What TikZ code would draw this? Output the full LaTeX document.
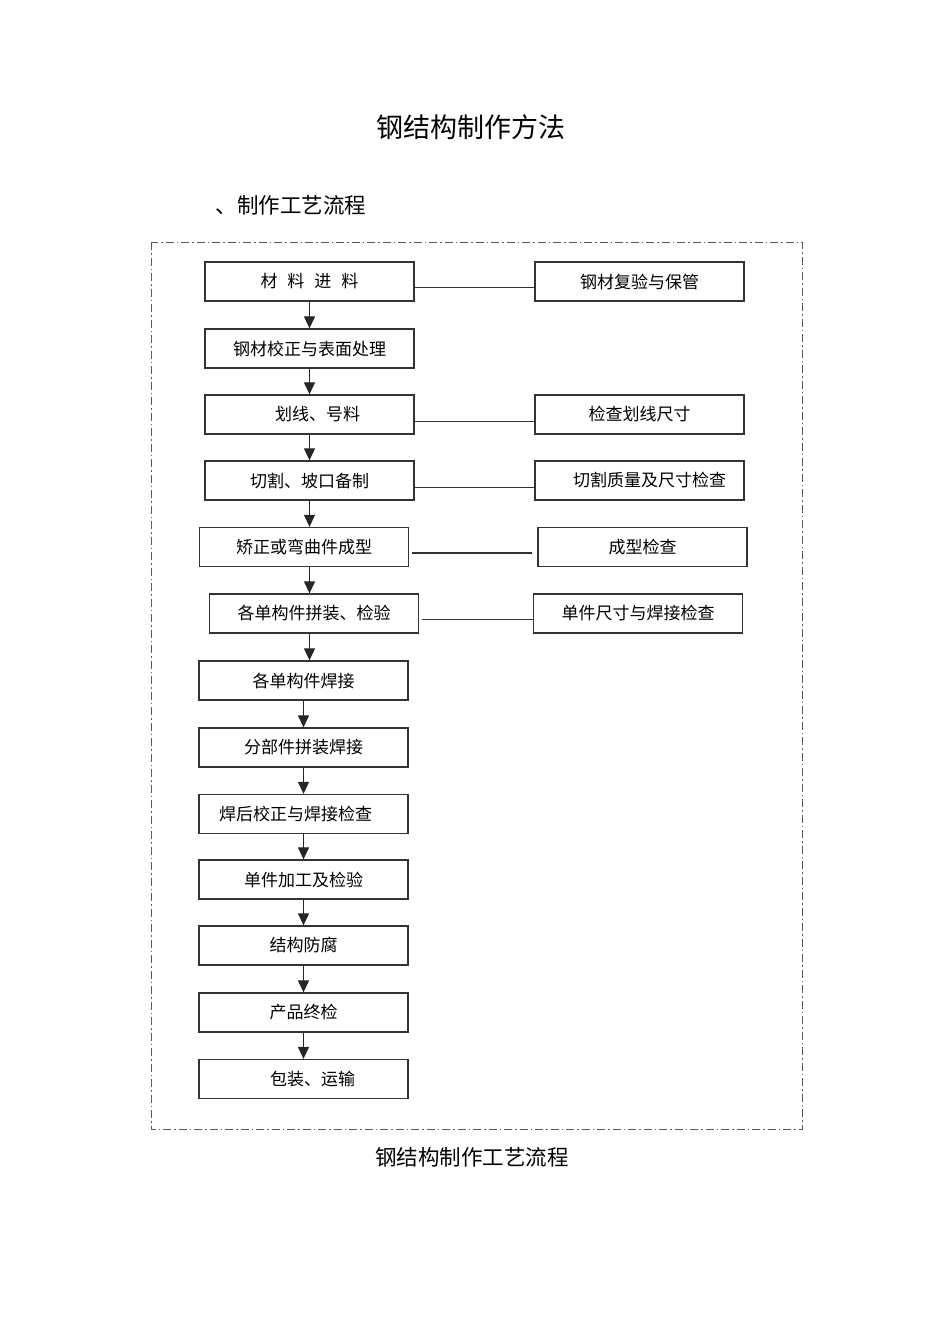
\documentclass[tikz,border=0pt]{standalone}
\usepackage{fontspec}
\newfontfamily\cjk{Noto Sans CJK SC}
\usetikzlibrary{arrows.meta}
\begin{document}
\begin{tikzpicture}[x=1pt,y=-1pt,
  box/.style={draw=black!80,line width=1.3pt,minimum width=209pt,minimum height=39pt,inner sep=0pt,font=\cjk\fontsize{17}{17}\selectfont},
  flow/.style={draw=black!85,line width=1.2pt,-{Triangle[width=11pt,length=12pt]}},
  link/.style={draw=black!80,line width=1.2pt},
  frame/.style={draw=black!65,line width=1pt,dash pattern=on 8pt off 3pt on 1.5pt off 3pt}]
\useasboundingbox (0,0) rectangle (950,1318);
\node[font=\cjk\fontsize{27}{27}\selectfont] (title) at (471,127) {钢结构制作方法};
\node[font=\cjk\fontsize{21.5}{21.5}\selectfont] (sub) at (291,205) {、制作工艺流程};
\draw[frame] (151,242) rectangle (802,1129);
% main line
\node[box] (m1) at (309.5,281.5) {材\hspace{10pt}料\hspace{10pt}进\hspace{10pt}料};
\node[box] (m2) at (309.5,348.5) {钢材校正与表面处理};
\node[box] (m3) at (309.5,414.5) {\hspace*{16pt}划线、号料};
\node[box] (m4) at (309.5,480.5) {切割、坡口备制};
\node[box] (m5) at (304,547) {矫正或弯曲件成型};
\node[box] (m6) at (314,613.5) {各单构件拼装、检验};
\node[box] (m7) at (303.5,680.5) {各单构件焊接};
\node[box] (m8) at (303.5,747.5) {分部件拼装焊接};
\node[box] (m9) at (303.5,814) {焊后校正与焊接检查\hspace*{16pt}};
\node[box] (m10) at (303.5,879.5) {单件加工及检验};
\node[box] (m11) at (303.5,945.5) {结构防腐};
\node[box] (m12) at (303.5,1012.5) {产品终检};
\node[box] (m13) at (303.5,1079) {\hspace*{18pt}包装、运输};
% checks
\node[box] (r1) at (639.5,281.5) {钢材复验与保管};
\node[box] (r3) at (639.5,414.5) {检查划线尺寸};
\node[box] (r4) at (639.5,480.5) {\hspace*{20pt}切割质量及尺寸检查};
\node[box] (r5) at (642.5,547) {成型检查};
\node[box] (r6) at (638,613.5) {单件尺寸与焊接检查};
\foreach \a/\b in {m1/m2,m2/m3,m3/m4,m7/m8,m8/m9,m9/m10,m10/m11,m11/m12,m12/m13}
  \draw[flow] (\a.south) -- (\b.north);
\draw[flow] (m4.south) -- (m4.south |- m5.north);
\draw[flow] (m4.south |- m5.south) -- (m4.south |- m6.north);
\draw[flow] (m4.south |- m6.south) -- (m4.south |- m7.north);
\draw[link] ([yshift=-6pt]m1.east) -- ([yshift=-6pt]r1.west);
\draw[link] ([yshift=-7pt]m3.east) -- ([yshift=-7pt]r3.west);
\draw[link] ([yshift=-7pt]m4.east) -- ([yshift=-7pt]r4.west);
\draw[link] ([xshift=3pt,yshift=-6pt]m5.east) -- ([xshift=-5pt,yshift=-6pt]r5.west);
\draw[link] ([xshift=3pt,yshift=-6pt]m6.east) -- ([yshift=-6pt]r6.west);
\node[font=\cjk\fontsize{21.5}{21.5}\selectfont] (caption) at (472,1157) {钢结构制作工艺流程};
\end{tikzpicture}
\end{document}
